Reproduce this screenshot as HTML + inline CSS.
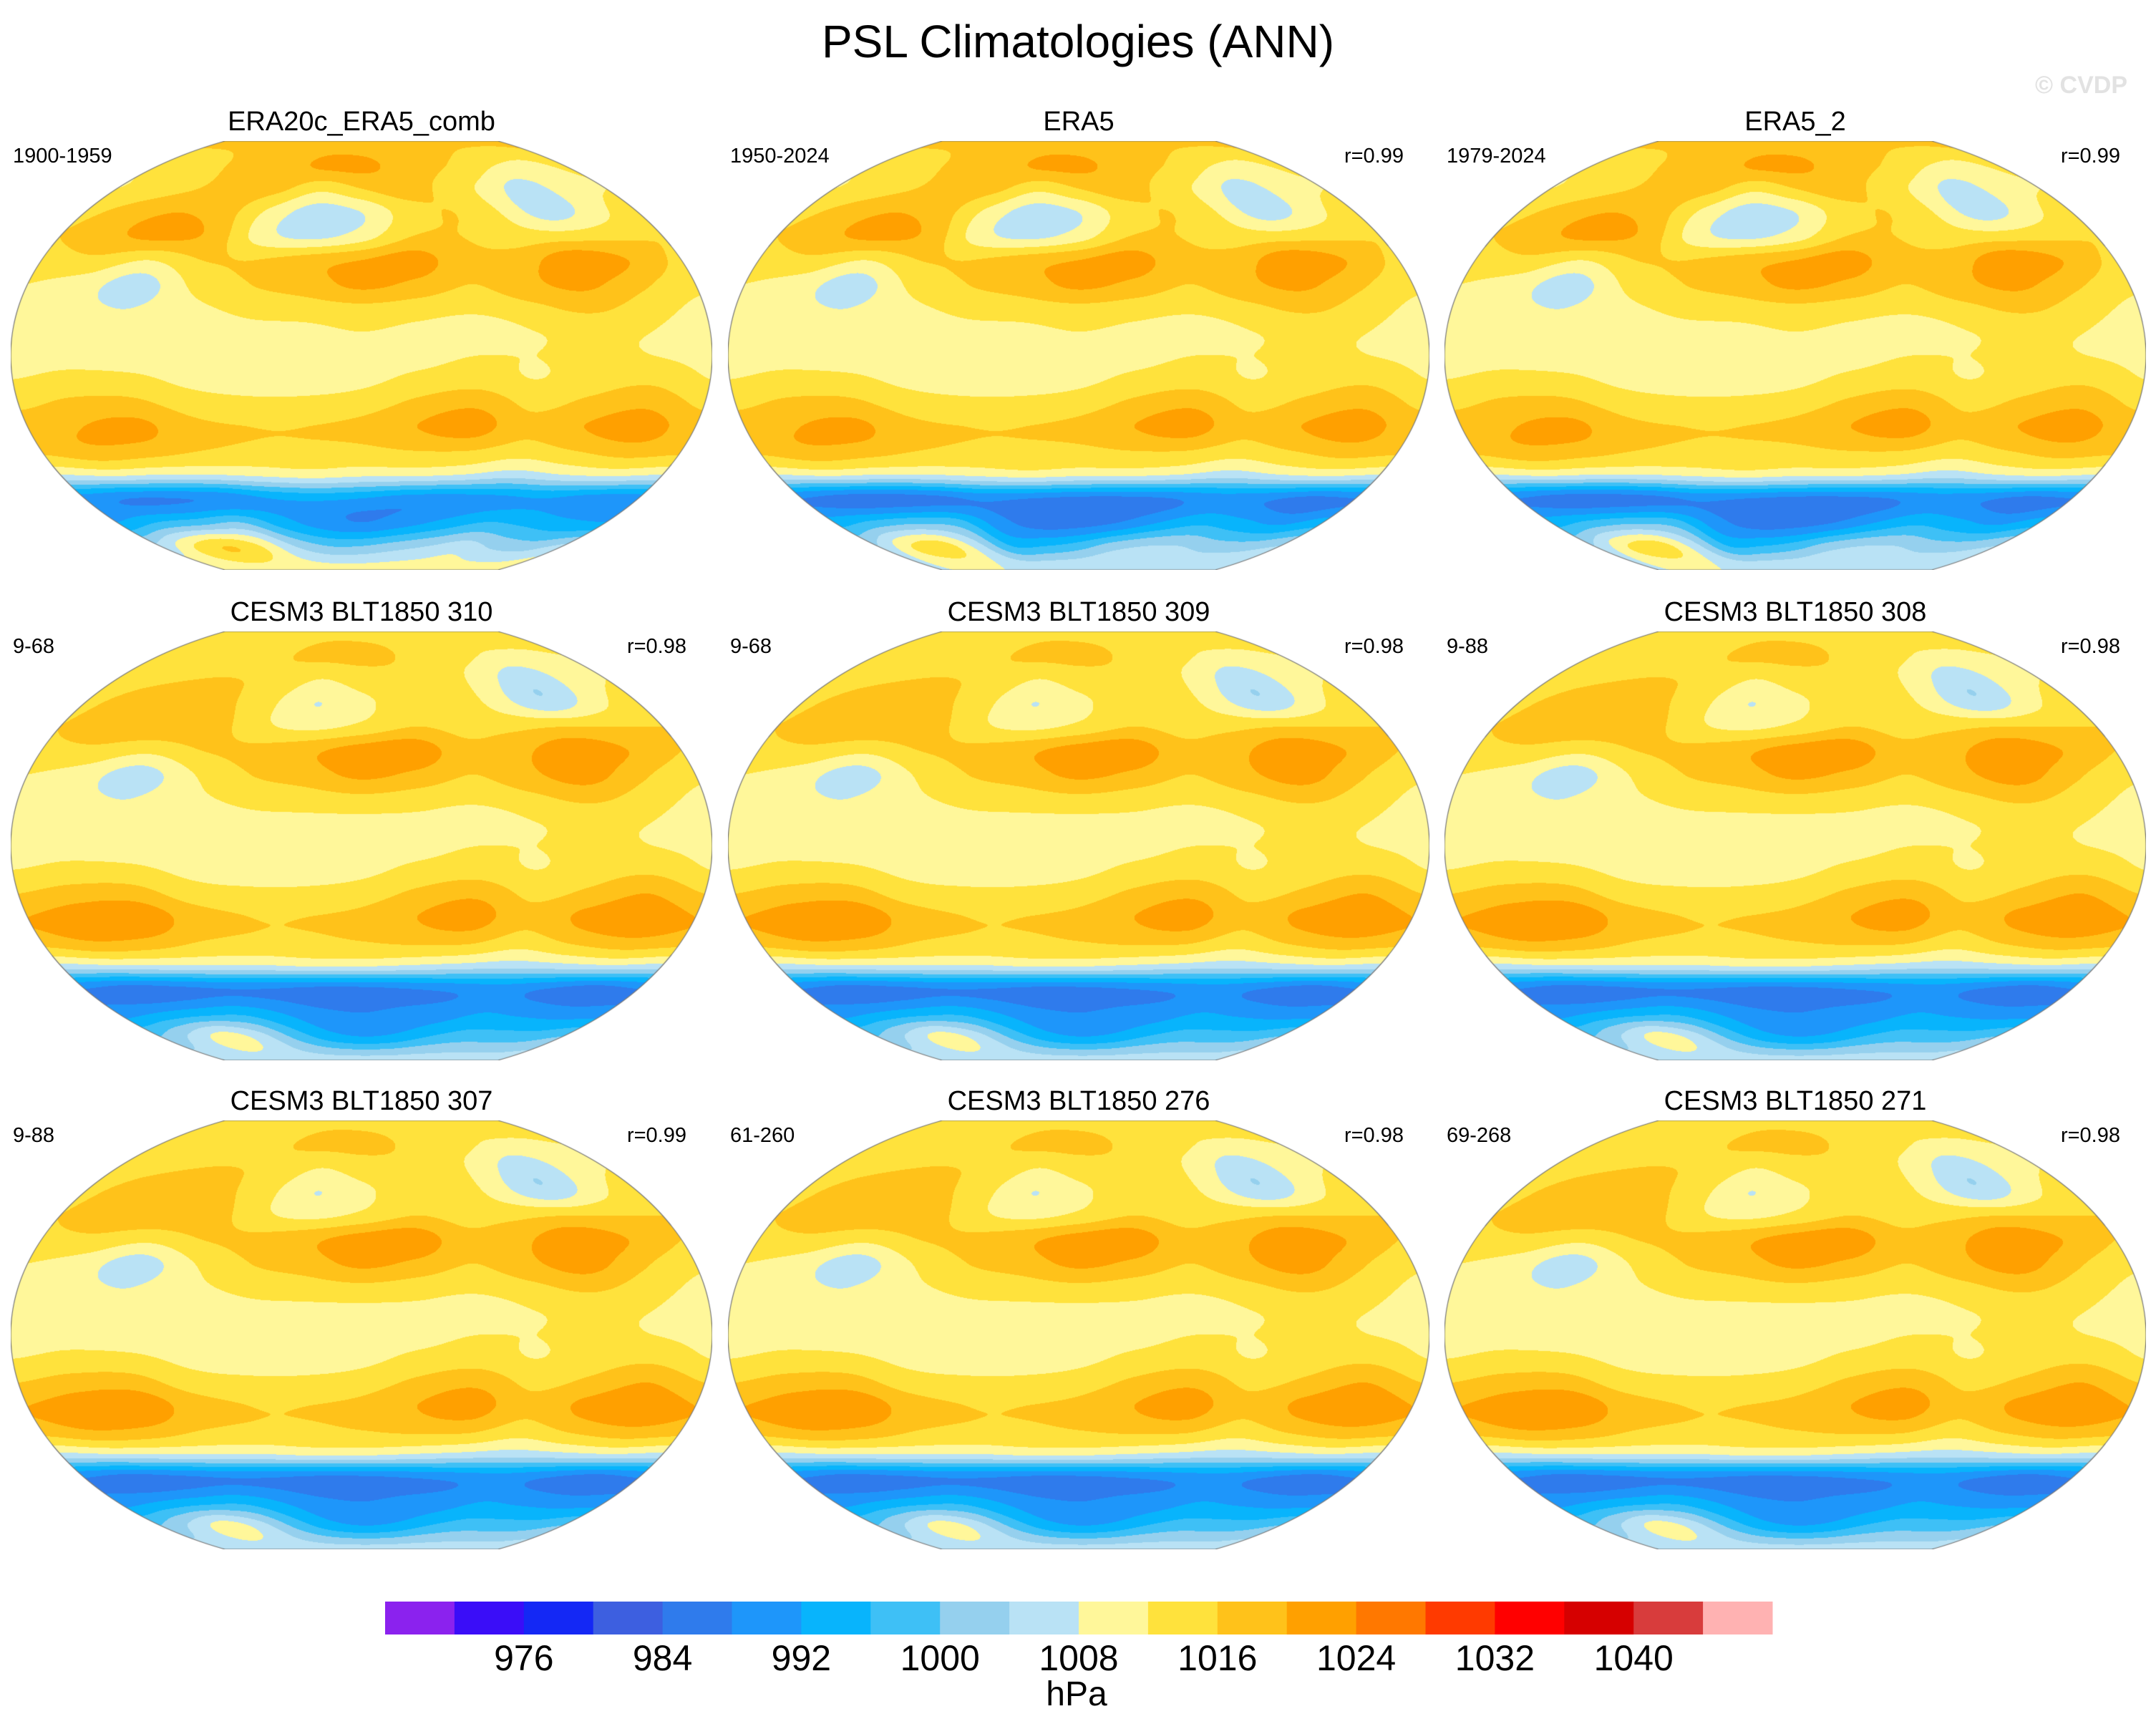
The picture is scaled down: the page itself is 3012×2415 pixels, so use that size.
<!DOCTYPE html>
<html><head><meta charset="utf-8"><title>PSL Climatologies (ANN)</title>
<style>
html,body{margin:0;padding:0;background:#fff;}
#root{position:relative;width:3012px;height:2415px;overflow:hidden;background:#fff;font-family:"Liberation Sans",sans-serif;}
canvas{position:absolute;}
svg{position:absolute;left:0;top:0;}
</style></head>
<body>
<div id="root">
<svg id="txt" width="3012" height="2415">
<text x="1506" y="80" font-size="64" text-anchor="middle" font-family="Liberation Sans, sans-serif">PSL Climatologies (ANN)</text>
<text x="2972" y="130" font-size="34" font-weight="bold" fill="#e2e2e2" text-anchor="end" font-family="Liberation Sans, sans-serif">© CVDP</text>
<g id="cbar"></g>
<text x="1504" y="2382" font-size="48" text-anchor="middle" font-family="Liberation Sans, sans-serif">hPa</text>
</svg>
</div>
<script>
// ---- data ----
const titles=["ERA20c_ERA5_comb","ERA5","ERA5_2","CESM3 BLT1850 310","CESM3 BLT1850 309","CESM3 BLT1850 308","CESM3 BLT1850 307","CESM3 BLT1850 276","CESM3 BLT1850 271"];
const periods=["1900-1959","1950-2024","1979-2024","9-68","9-68","9-88","9-88","61-260","69-268"];
const corrs=["","r=0.99","r=0.99","r=0.98","r=0.98","r=0.98","r=0.99","r=0.98","r=0.98"];
const fieldKind=["era20c","era5","era5","model","model","model","model","model","model"];
const levelTicks=[976,984,992,1000,1008,1016,1024,1032,1040];
const levelColors=["#8B22EE","#3A0DF8","#1428F5","#3D5FE0","#2F7BEC","#1E96FA","#08B4FC","#3EC0F6","#95D0EE","#B9E2F5","#FFF79A","#FFE23C","#FFC21A","#FFA000","#FF7800","#FF3A00","#FF0000","#D60000","#D83C3C","#FFB2B2"];
const levelMin=968, levelStep=4;
const lats=[90,80,70,60,50,40,30,20,10,0,-10,-20,-30,-40,-50,-60,-70,-80,-90];
const lons=[30,60,90,120,150,180,210,240,270,300,330,360,390];
const obsField=[
[1017,1017,1017,1017,1017,1017,1017,1017,1017,1017,1017,1017,1017],
[1013,1014,1016,1018,1019,1021,1021,1019,1017,1015,1012,1011,1013],
[1012,1014,1016,1018,1017,1013,1016,1018,1015,1011,1006,1010,1012],
[1015,1018,1020,1018,1011,1006,1008,1014,1016,1012,1006,1010,1015],
[1016,1019,1021,1019,1010,1007,1010,1016,1016,1014,1014,1015,1016],
[1014,1015,1012,1016,1016,1018,1020,1022,1017,1018,1023,1020,1015],
[1012,1010,1006,1013,1016,1018,1021,1019,1016,1019,1021,1017,1013],
[1011,1009,1008,1011,1013,1014,1015,1014,1013,1015,1017,1014,1011],
[1010,1010,1009,1010,1011,1011,1012,1011,1010,1012,1013,1012,1010],
[1011,1011,1010,1010,1010,1010,1011,1011,1012,1012,1013,1012,1011],
[1012,1013,1013,1011,1010,1010,1011,1013,1014,1012,1014,1015,1012],
[1015,1017,1017,1014,1013,1013,1014,1017,1019,1015,1017,1019,1015],
[1018,1020,1021,1017,1016,1016,1017,1020,1022,1017,1020,1022,1018],
[1017,1019,1018,1016,1015,1015,1015,1016,1016,1014,1016,1018,1017],
[1008,1009,1008,1008,1009,1010,1009,1009,1008,1006,1008,1009,1008],
[990,988,988,989,992,993,992,990,990,991,992,990,990],
[992,996,998,1000,994,990,988,990,993,996,995,993,992],
[1005,1012,1016,1012,1004,1000,1000,1002,1004,1006,1003,1002,1005],
[1010,1010,1010,1010,1010,1010,1010,1010,1010,1010,1010,1010,1010]];
// ERA5 southern rows (lat -60, -70, -80, -90) replace the obs rows
const era5South=[
[988,986,986,987,989,988,987,987,988,990,989,987,988],
[994,997,999,998,990,986,986,988,992,995,993,991,994],
[1004,1012,1014,1006,996,996,998,1002,1004,1004,1002,1002,1004],
[1008,1008,1008,1008,1008,1008,1008,1008,1008,1008,1008,1008,1008]];
const modelField=[
[1015,1015,1015,1015,1015,1015,1015,1015,1015,1015,1015,1015,1015],
[1013,1014,1015,1015,1016,1017,1017,1016,1014,1013,1011,1011,1012],
[1013,1015,1016,1016,1015,1012,1014,1015,1014,1010,1005,1009,1012],
[1015,1018,1019,1017,1013,1008,1011,1014,1015,1010,1005,1010,1015],
[1016,1018,1019,1018,1013,1011,1013,1016,1015,1015,1016,1016,1016],
[1015,1015,1013,1016,1017,1019,1022,1023,1017,1019,1023,1020,1016],
[1012,1010,1006,1012,1016,1018,1021,1019,1016,1019,1022,1017,1013],
[1011,1009,1008,1011,1013,1014,1015,1014,1013,1015,1017,1014,1011],
[1010,1010,1009,1010,1011,1011,1011,1011,1010,1012,1013,1012,1010],
[1011,1011,1010,1010,1010,1010,1011,1011,1012,1012,1013,1012,1011],
[1012,1013,1013,1011,1010,1010,1011,1013,1014,1012,1014,1015,1012],
[1016,1018,1018,1014,1013,1013,1014,1017,1019,1015,1017,1020,1016],
[1020,1022,1023,1018,1016,1016,1017,1020,1022,1017,1021,1023,1020],
[1018,1020,1019,1016,1015,1015,1016,1017,1017,1014,1017,1019,1018],
[1007,1008,1008,1008,1008,1009,1009,1008,1007,1006,1007,1008,1007],
[988,986,987,988,988,987,987,988,989,990,988,986,988],
[990,992,994,995,992,989,988,989,990,992,991,990,990],
[1000,1005,1010,1006,999,994,992,993,996,998,998,998,1000],
[1006,1006,1006,1006,1006,1006,1006,1006,1006,1006,1006,1006,1006]];

// ---- layout ----
const root=document.getElementById('root');
const svg=document.getElementById('txt');
const NS='http://www.w3.org/2000/svg';
const colX=[15,1017,2018], rowY=[197,882,1565];
const MW=980, MH=599, topRatio=0.389, centerLon=210;

const era5Field=obsField.slice(0,lats.length-era5South.length).concat(era5South);
const grids={era20c:obsField,era5:era5Field,model:modelField};

function hexRGB(h){return [parseInt(h.slice(1,3),16),parseInt(h.slice(3,5),16),parseInt(h.slice(5,7),16)];}
const rgb=levelColors.map(hexRGB);
function colorIndex(v){let i=Math.floor((v-levelMin)/levelStep);return Math.max(0,Math.min(levelColors.length-1,i));}
function cr(p0,p1,p2,p3,t){return p1+0.5*t*(p2-p0+t*(2*p0-5*p1+4*p2-p3+t*(3*(p1-p2)+p3-p0)));}
function g(grid,r,c){r=Math.max(0,Math.min(lats.length-1,r));c=Math.max(0,Math.min(lons.length-1,c));return grid[r][c];}
function sample(grid,lat,lon){
  let r=(lats[0]-lat)/(lats[0]-lats[1]); let c=(lon-lons[0])/(lons[1]-lons[0]);
  r=Math.max(0,Math.min(lats.length-1.0001,r)); c=Math.max(0,Math.min(lons.length-1.0001,c));
  const r0=Math.floor(r),c0=Math.floor(c),fr=r-r0,fc=c-c0;
  const rows=[];
  for(let k=-1;k<=2;k++){rows.push(cr(g(grid,r0+k,c0-1),g(grid,r0+k,c0),g(grid,r0+k,c0+1),g(grid,r0+k,c0+2),fc));}
  return cr(rows[0],rows[1],rows[2],rows[3],fr);
}
function widthFactor(lat){return Math.sqrt(1-(lat/90)*(lat/90)*(1-topRatio*topRatio));}
function addText(x,y,s,size,anchor,name){
  const t=document.createElementNS(NS,'text');
  t.setAttribute('x',x);t.setAttribute('y',y);t.setAttribute('font-size',size);
  t.setAttribute('text-anchor',anchor);t.setAttribute('font-family','Liberation Sans, sans-serif');
  t.textContent=s;
  
  
  svg.appendChild(t);return t;
}

function drawMap(cv,grid){
  const ctx=cv.getContext('2d');
  const img=ctx.createImageData(MW,MH);const D=img.data;
  for(let y=0;y<MH;y++){
    const lat=90-180*(y+0.5)/MH;const hw=(MW/2)*widthFactor(lat);
    for(let x=0;x<MW;x++){
      const dx=x+0.5-MW/2;if(Math.abs(dx)>hw)continue;
      const lon=centerLon+dx/hw*180;
      const c=rgb[colorIndex(sample(grid,lat,lon))];
      const k=(y*MW+x)*4;D[k]=c[0];D[k+1]=c[1];D[k+2]=c[2];D[k+3]=255;
    }
  }
  ctx.putImageData(img,0,0);
  ctx.strokeStyle='#777';ctx.lineWidth=1.2;ctx.beginPath();
  for(let y=0;y<=MH;y++){const lat=90-180*y/MH;const x=MW/2-(MW/2)*widthFactor(lat);if(y===0)ctx.moveTo(x,y);else ctx.lineTo(x,y);}
  for(let y=MH;y>=0;y--){const lat=90-180*y/MH;const x=MW/2+(MW/2)*widthFactor(lat);ctx.lineTo(x,y);}
  ctx.closePath();ctx.stroke();
}

for(let p=0;p<titles.length;p++){
  const cx=colX[p%3], cy=rowY[Math.floor(p/3)];
  const cv=document.createElement('canvas');
  cv.width=MW;cv.height=MH;cv.style.left=cx+'px';cv.style.top=cy+'px';
  
  
  root.insertBefore(cv,svg);
  drawMap(cv,grids[fieldKind[p]]);
  addText(cx+MW/2,cy-15,titles[p],38,'middle','panel-title-'+(p+1));
  addText(cx+3,cy+30,periods[p],29,'start','panel-period-'+(p+1));
  if(corrs[p]) addText(cx+944,cy+30,corrs[p],29,'end','panel-correlation-'+(p+1));
}

// ---- colorbar ----
const cb=document.getElementById('cbar');
const cbX0=538, cbX1=2476, cbY=2237, cbH=46;
const boxW=(cbX1-cbX0)/levelColors.length;
for(let i=0;i<levelColors.length;i++){
  const r=document.createElementNS(NS,'rect');
  r.setAttribute('x',cbX0+i*boxW);r.setAttribute('y',cbY);r.setAttribute('width',boxW+0.5);r.setAttribute('height',cbH);
  r.setAttribute('fill',levelColors[i]);
  
  
  cb.appendChild(r);
}
levelTicks.forEach(function(v){
  const k=(v-levelMin)/levelStep;
  addText(cbX0+k*boxW,2333,String(v),50,'middle','colorbar-label-'+v);
});
</script>
</body></html>
